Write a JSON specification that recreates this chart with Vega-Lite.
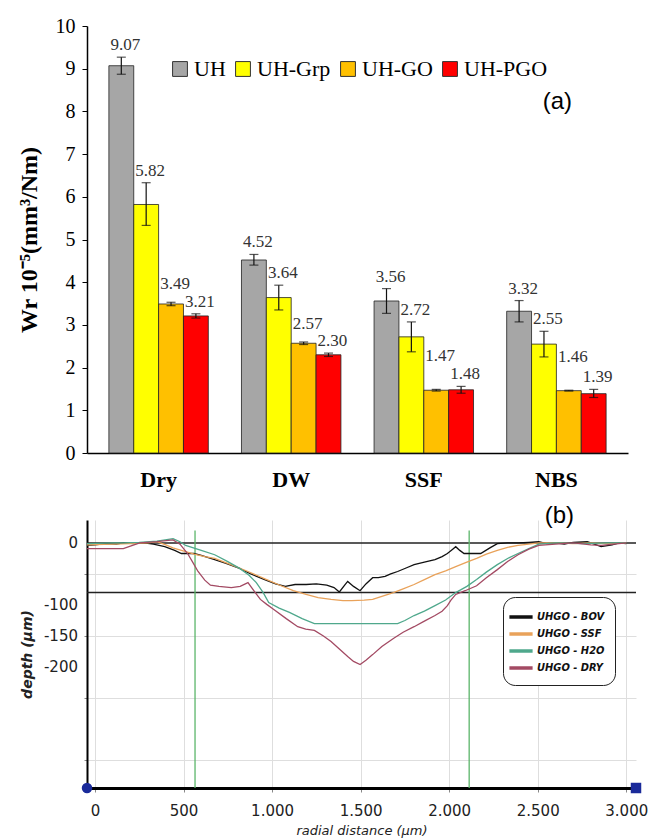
{
  "$schema": "https://vega.github.io/schema/vega-lite/v6.json",
  "background": "white",
  "padding": {"left": 17, "top": 16, "right": 2, "bottom": 2},
  "config": {"view": {"stroke": null}, "concat": {"spacing": 14}, "axis": {"labelOverlap": false}},
  "resolve": {"scale": {"color": "independent"}, "legend": {"color": "independent"}},
  "datasets": {
    "wear": [
      {"medium": "Dry", "sample": "UH", "wr": 9.07, "lo": 8.87, "hi": 9.27},
      {"medium": "Dry", "sample": "UH-Grp", "wr": 5.82, "lo": 5.33, "hi": 6.33},
      {"medium": "Dry", "sample": "UH-GO", "wr": 3.49, "lo": 3.45, "hi": 3.53},
      {"medium": "Dry", "sample": "UH-PGO", "wr": 3.21, "lo": 3.16, "hi": 3.26},
      {"medium": "DW", "sample": "UH", "wr": 4.52, "lo": 4.40, "hi": 4.65},
      {"medium": "DW", "sample": "UH-Grp", "wr": 3.64, "lo": 3.35, "hi": 3.93},
      {"medium": "DW", "sample": "UH-GO", "wr": 2.57, "lo": 2.54, "hi": 2.60},
      {"medium": "DW", "sample": "UH-PGO", "wr": 2.30, "lo": 2.26, "hi": 2.34},
      {"medium": "SSF", "sample": "UH", "wr": 3.56, "lo": 3.27, "hi": 3.85},
      {"medium": "SSF", "sample": "UH-Grp", "wr": 2.72, "lo": 2.37, "hi": 3.07},
      {"medium": "SSF", "sample": "UH-GO", "wr": 1.47, "lo": 1.45, "hi": 1.49},
      {"medium": "SSF", "sample": "UH-PGO", "wr": 1.48, "lo": 1.40, "hi": 1.56},
      {"medium": "NBS", "sample": "UH", "wr": 3.32, "lo": 3.07, "hi": 3.57},
      {"medium": "NBS", "sample": "UH-Grp", "wr": 2.55, "lo": 2.25, "hi": 2.85},
      {"medium": "NBS", "sample": "UH-GO", "wr": 1.46, "lo": 1.45, "hi": 1.47},
      {"medium": "NBS", "sample": "UH-PGO", "wr": 1.39, "lo": 1.30, "hi": 1.49}
    ],
    "profile": [
      {"series": "UHGO - BOV", "r": -45, "depth": -4}, {"series": "UHGO - BOV", "r": 0, "depth": -3}, {"series": "UHGO - BOV", "r": 60, "depth": -1}, {"series": "UHGO - BOV", "r": 120, "depth": -2}, {"series": "UHGO - BOV", "r": 160, "depth": 0}, {"series": "UHGO - BOV", "r": 220, "depth": -1}, {"series": "UHGO - BOV", "r": 277, "depth": 0}, {"series": "UHGO - BOV", "r": 330, "depth": -2}, {"series": "UHGO - BOV", "r": 394, "depth": -6}, {"series": "UHGO - BOV", "r": 450, "depth": -12}, {"series": "UHGO - BOV", "r": 488, "depth": -17}, {"series": "UHGO - BOV", "r": 559, "depth": -17}, {"series": "UHGO - BOV", "r": 600, "depth": -20}, {"series": "UHGO - BOV", "r": 676, "depth": -27}, {"series": "UHGO - BOV", "r": 740, "depth": -33}, {"series": "UHGO - BOV", "r": 817, "depth": -41}, {"series": "UHGO - BOV", "r": 880, "depth": -50}, {"series": "UHGO - BOV", "r": 958, "depth": -59}, {"series": "UHGO - BOV", "r": 1020, "depth": -66}, {"series": "UHGO - BOV", "r": 1075, "depth": -70}, {"series": "UHGO - BOV", "r": 1130, "depth": -67}, {"series": "UHGO - BOV", "r": 1192, "depth": -67}, {"series": "UHGO - BOV", "r": 1250, "depth": -66}, {"series": "UHGO - BOV", "r": 1309, "depth": -68}, {"series": "UHGO - BOV", "r": 1350, "depth": -72}, {"series": "UHGO - BOV", "r": 1380, "depth": -79}, {"series": "UHGO - BOV", "r": 1410, "depth": -68}, {"series": "UHGO - BOV", "r": 1427, "depth": -62}, {"series": "UHGO - BOV", "r": 1460, "depth": -70}, {"series": "UHGO - BOV", "r": 1497, "depth": -77}, {"series": "UHGO - BOV", "r": 1530, "depth": -66}, {"series": "UHGO - BOV", "r": 1568, "depth": -56}, {"series": "UHGO - BOV", "r": 1600, "depth": -56}, {"series": "UHGO - BOV", "r": 1638, "depth": -54}, {"series": "UHGO - BOV", "r": 1670, "depth": -50}, {"series": "UHGO - BOV", "r": 1709, "depth": -46}, {"series": "UHGO - BOV", "r": 1760, "depth": -40}, {"series": "UHGO - BOV", "r": 1802, "depth": -35}, {"series": "UHGO - BOV", "r": 1860, "depth": -31}, {"series": "UHGO - BOV", "r": 1920, "depth": -27}, {"series": "UHGO - BOV", "r": 1960, "depth": -22}, {"series": "UHGO - BOV", "r": 1990, "depth": -17}, {"series": "UHGO - BOV", "r": 2020, "depth": -10}, {"series": "UHGO - BOV", "r": 2037, "depth": -6}, {"series": "UHGO - BOV", "r": 2060, "depth": -12}, {"series": "UHGO - BOV", "r": 2084, "depth": -17}, {"series": "UHGO - BOV", "r": 2130, "depth": -17}, {"series": "UHGO - BOV", "r": 2178, "depth": -17}, {"series": "UHGO - BOV", "r": 2230, "depth": -8}, {"series": "UHGO - BOV", "r": 2272, "depth": -1}, {"series": "UHGO - BOV", "r": 2330, "depth": 0}, {"series": "UHGO - BOV", "r": 2389, "depth": 0}, {"series": "UHGO - BOV", "r": 2450, "depth": 1}, {"series": "UHGO - BOV", "r": 2506, "depth": 2}, {"series": "UHGO - BOV", "r": 2550, "depth": -1}, {"series": "UHGO - BOV", "r": 2600, "depth": 0}, {"series": "UHGO - BOV", "r": 2650, "depth": -2}, {"series": "UHGO - BOV", "r": 2700, "depth": 1}, {"series": "UHGO - BOV", "r": 2780, "depth": 2}, {"series": "UHGO - BOV", "r": 2858, "depth": -6}, {"series": "UHGO - BOV", "r": 2920, "depth": -3}, {"series": "UHGO - BOV", "r": 2960, "depth": 0}, {"series": "UHGO - BOV", "r": 3000, "depth": -1},
      {"series": "UHGO - SSF", "r": -45, "depth": -3}, {"series": "UHGO - SSF", "r": 100, "depth": -2}, {"series": "UHGO - SSF", "r": 200, "depth": -1}, {"series": "UHGO - SSF", "r": 300, "depth": 0}, {"series": "UHGO - SSF", "r": 350, "depth": 2}, {"series": "UHGO - SSF", "r": 400, "depth": -3}, {"series": "UHGO - SSF", "r": 440, "depth": -8}, {"series": "UHGO - SSF", "r": 488, "depth": -12}, {"series": "UHGO - SSF", "r": 560, "depth": -18}, {"series": "UHGO - SSF", "r": 620, "depth": -22}, {"series": "UHGO - SSF", "r": 676, "depth": -25}, {"series": "UHGO - SSF", "r": 760, "depth": -34}, {"series": "UHGO - SSF", "r": 864, "depth": -46}, {"series": "UHGO - SSF", "r": 960, "depth": -58}, {"series": "UHGO - SSF", "r": 1051, "depth": -69}, {"series": "UHGO - SSF", "r": 1120, "depth": -77}, {"series": "UHGO - SSF", "r": 1192, "depth": -83}, {"series": "UHGO - SSF", "r": 1260, "depth": -88}, {"series": "UHGO - SSF", "r": 1333, "depth": -91}, {"series": "UHGO - SSF", "r": 1400, "depth": -93}, {"series": "UHGO - SSF", "r": 1450, "depth": -93}, {"series": "UHGO - SSF", "r": 1520, "depth": -92}, {"series": "UHGO - SSF", "r": 1568, "depth": -91}, {"series": "UHGO - SSF", "r": 1620, "depth": -86}, {"series": "UHGO - SSF", "r": 1685, "depth": -80}, {"series": "UHGO - SSF", "r": 1740, "depth": -74}, {"series": "UHGO - SSF", "r": 1802, "depth": -67}, {"series": "UHGO - SSF", "r": 1860, "depth": -59}, {"series": "UHGO - SSF", "r": 1920, "depth": -51}, {"series": "UHGO - SSF", "r": 1980, "depth": -45}, {"series": "UHGO - SSF", "r": 2037, "depth": -38}, {"series": "UHGO - SSF", "r": 2100, "depth": -31}, {"series": "UHGO - SSF", "r": 2155, "depth": -25}, {"series": "UHGO - SSF", "r": 2210, "depth": -18}, {"series": "UHGO - SSF", "r": 2272, "depth": -12}, {"series": "UHGO - SSF", "r": 2330, "depth": -7}, {"series": "UHGO - SSF", "r": 2389, "depth": -4}, {"series": "UHGO - SSF", "r": 2450, "depth": -2}, {"series": "UHGO - SSF", "r": 2506, "depth": 0}, {"series": "UHGO - SSF", "r": 2600, "depth": 0}, {"series": "UHGO - SSF", "r": 2700, "depth": -1}, {"series": "UHGO - SSF", "r": 2800, "depth": 0}, {"series": "UHGO - SSF", "r": 2900, "depth": -1}, {"series": "UHGO - SSF", "r": 3000, "depth": 0},
      {"series": "UHGO - H2O", "r": -45, "depth": -1}, {"series": "UHGO - H2O", "r": 100, "depth": 0}, {"series": "UHGO - H2O", "r": 160, "depth": 0}, {"series": "UHGO - H2O", "r": 250, "depth": 1}, {"series": "UHGO - H2O", "r": 350, "depth": 3}, {"series": "UHGO - H2O", "r": 441, "depth": 7}, {"series": "UHGO - H2O", "r": 480, "depth": 2}, {"series": "UHGO - H2O", "r": 512, "depth": -4}, {"series": "UHGO - H2O", "r": 600, "depth": -12}, {"series": "UHGO - H2O", "r": 676, "depth": -19}, {"series": "UHGO - H2O", "r": 750, "depth": -30}, {"series": "UHGO - H2O", "r": 817, "depth": -41}, {"series": "UHGO - H2O", "r": 870, "depth": -52}, {"series": "UHGO - H2O", "r": 911, "depth": -64}, {"series": "UHGO - H2O", "r": 950, "depth": -80}, {"series": "UHGO - H2O", "r": 981, "depth": -96}, {"series": "UHGO - H2O", "r": 1040, "depth": -105}, {"series": "UHGO - H2O", "r": 1098, "depth": -112}, {"series": "UHGO - H2O", "r": 1170, "depth": -122}, {"series": "UHGO - H2O", "r": 1239, "depth": -130}, {"series": "UHGO - H2O", "r": 1400, "depth": -130}, {"series": "UHGO - H2O", "r": 1550, "depth": -130}, {"series": "UHGO - H2O", "r": 1709, "depth": -130}, {"series": "UHGO - H2O", "r": 1750, "depth": -125}, {"series": "UHGO - H2O", "r": 1802, "depth": -117}, {"series": "UHGO - H2O", "r": 1860, "depth": -110}, {"series": "UHGO - H2O", "r": 1920, "depth": -101}, {"series": "UHGO - H2O", "r": 1980, "depth": -92}, {"series": "UHGO - H2O", "r": 2037, "depth": -80}, {"series": "UHGO - H2O", "r": 2100, "depth": -70}, {"series": "UHGO - H2O", "r": 2155, "depth": -59}, {"series": "UHGO - H2O", "r": 2210, "depth": -47}, {"series": "UHGO - H2O", "r": 2272, "depth": -35}, {"series": "UHGO - H2O", "r": 2330, "depth": -25}, {"series": "UHGO - H2O", "r": 2389, "depth": -17}, {"series": "UHGO - H2O", "r": 2450, "depth": -9}, {"series": "UHGO - H2O", "r": 2506, "depth": -2}, {"series": "UHGO - H2O", "r": 2600, "depth": 0}, {"series": "UHGO - H2O", "r": 2750, "depth": -1}, {"series": "UHGO - H2O", "r": 2900, "depth": 0}, {"series": "UHGO - H2O", "r": 3000, "depth": 0},
      {"series": "UHGO - DRY", "r": -45, "depth": -9}, {"series": "UHGO - DRY", "r": 100, "depth": -9}, {"series": "UHGO - DRY", "r": 160, "depth": -9}, {"series": "UHGO - DRY", "r": 200, "depth": -5}, {"series": "UHGO - DRY", "r": 253, "depth": 0}, {"series": "UHGO - DRY", "r": 350, "depth": 2}, {"series": "UHGO - DRY", "r": 441, "depth": 5}, {"series": "UHGO - DRY", "r": 480, "depth": -2}, {"series": "UHGO - DRY", "r": 523, "depth": -17}, {"series": "UHGO - DRY", "r": 550, "depth": -30}, {"series": "UHGO - DRY", "r": 582, "depth": -46}, {"series": "UHGO - DRY", "r": 620, "depth": -60}, {"series": "UHGO - DRY", "r": 652, "depth": -68}, {"series": "UHGO - DRY", "r": 700, "depth": -70}, {"series": "UHGO - DRY", "r": 770, "depth": -72}, {"series": "UHGO - DRY", "r": 820, "depth": -70}, {"series": "UHGO - DRY", "r": 864, "depth": -64}, {"series": "UHGO - DRY", "r": 900, "depth": -78}, {"series": "UHGO - DRY", "r": 934, "depth": -91}, {"series": "UHGO - DRY", "r": 970, "depth": -99}, {"series": "UHGO - DRY", "r": 1004, "depth": -106}, {"series": "UHGO - DRY", "r": 1080, "depth": -122}, {"series": "UHGO - DRY", "r": 1145, "depth": -135}, {"series": "UHGO - DRY", "r": 1190, "depth": -139}, {"series": "UHGO - DRY", "r": 1239, "depth": -141}, {"series": "UHGO - DRY", "r": 1290, "depth": -150}, {"series": "UHGO - DRY", "r": 1333, "depth": -159}, {"series": "UHGO - DRY", "r": 1380, "depth": -171}, {"series": "UHGO - DRY", "r": 1427, "depth": -183}, {"series": "UHGO - DRY", "r": 1460, "depth": -191}, {"series": "UHGO - DRY", "r": 1497, "depth": -196}, {"series": "UHGO - DRY", "r": 1530, "depth": -189}, {"series": "UHGO - DRY", "r": 1568, "depth": -180}, {"series": "UHGO - DRY", "r": 1620, "depth": -167}, {"series": "UHGO - DRY", "r": 1685, "depth": -154}, {"series": "UHGO - DRY", "r": 1740, "depth": -144}, {"series": "UHGO - DRY", "r": 1802, "depth": -135}, {"series": "UHGO - DRY", "r": 1860, "depth": -126}, {"series": "UHGO - DRY", "r": 1920, "depth": -117}, {"series": "UHGO - DRY", "r": 1960, "depth": -110}, {"series": "UHGO - DRY", "r": 1990, "depth": -101}, {"series": "UHGO - DRY", "r": 2010, "depth": -92}, {"series": "UHGO - DRY", "r": 2037, "depth": -83}, {"series": "UHGO - DRY", "r": 2090, "depth": -77}, {"series": "UHGO - DRY", "r": 2155, "depth": -69}, {"series": "UHGO - DRY", "r": 2210, "depth": -56}, {"series": "UHGO - DRY", "r": 2272, "depth": -43}, {"series": "UHGO - DRY", "r": 2330, "depth": -30}, {"series": "UHGO - DRY", "r": 2389, "depth": -19}, {"series": "UHGO - DRY", "r": 2450, "depth": -10}, {"series": "UHGO - DRY", "r": 2506, "depth": -4}, {"series": "UHGO - DRY", "r": 2600, "depth": -2}, {"series": "UHGO - DRY", "r": 2700, "depth": 0}, {"series": "UHGO - DRY", "r": 2741, "depth": -1}, {"series": "UHGO - DRY", "r": 2800, "depth": -3}, {"series": "UHGO - DRY", "r": 2858, "depth": -4}, {"series": "UHGO - DRY", "r": 2930, "depth": -2}, {"series": "UHGO - DRY", "r": 3000, "depth": 0}
    ],
    "hrefs": [{"depth": 0}, {"depth": -80}],
    "vrefs": [{"r": 565}, {"r": 2113}],
    "ylabels": [{"depth": 0, "label": "0"}, {"depth": -100, "label": "-100"}, {"depth": -150, "label": "-150"}, {"depth": -200, "label": "-200"}],
    "ends": [{"r": -45, "depth": -395, "kind": "start"}, {"r": 3055, "depth": -395, "kind": "end"}]
  },
  "vconcat": [
    {
      "width": 541,
      "height": 427,
      "title": {"text": "(a)", "anchor": "end", "frame": "group", "offset": -98, "dx": -56, "font": "Liberation Sans", "fontSize": 24, "fontWeight": "normal", "color": "black"},
      "data": {"name": "wear"},
      "encoding": {
        "x": {"field": "medium", "type": "nominal", "sort": ["Dry", "DW", "SSF", "NBS"], "scale": {"paddingInner": 0.25, "paddingOuter": 0.165},
          "axis": {"title": null, "labelAngle": 0, "labelFont": "Liberation Serif", "labelFontWeight": "bold", "labelFontSize": 22, "labelColor": "black", "labelPadding": 16, "ticks": false, "domainColor": "black", "domainWidth": 1.5}},
        "xOffset": {"field": "sample", "type": "nominal", "sort": ["UH", "UH-Grp", "UH-GO", "UH-PGO"], "scale": {"paddingInner": 0, "paddingOuter": 0}}
      },
      "layer": [
        {
          "mark": {"type": "bar", "stroke": "#222", "strokeWidth": 0.8},
          "encoding": {
            "y": {"field": "wr", "type": "quantitative", "title": "Wr 10⁻⁵(mm³/Nm)", "scale": {"domain": [0, 10], "nice": false},
              "axis": {"title": "Wr 10⁻⁵(mm³/Nm)", "titleFont": "Liberation Serif", "titleFontSize": 24, "titleFontWeight": "bold", "titleColor": "black", "titlePadding": 14,
                "values": [0, 1, 2, 3, 4, 5, 6, 7, 8, 9, 10], "grid": false, "labelFont": "Liberation Serif", "labelFontSize": 20, "labelColor": "black", "labelPadding": 7,
                "tickColor": "black", "tickSize": 5, "domainColor": "black", "domainWidth": 1.5}},
            "color": {"field": "sample", "type": "nominal", "sort": ["UH", "UH-Grp", "UH-GO", "UH-PGO"],
              "scale": {"domain": ["UH", "UH-Grp", "UH-GO", "UH-PGO"], "range": ["#A6A6A6", "#FFFF00", "#FFC000", "#FF0000"]},
              "legend": {"title": null, "orient": "none", "legendX": 82, "legendY": 32, "direction": "horizontal", "symbolType": "square", "symbolSize": 220,
                "symbolStrokeColor": "#333", "symbolStrokeWidth": 1, "labelFont": "Liberation Serif", "labelFontSize": 22, "labelColor": "black", "labelOffset": 3, "columnPadding": 6}}
          }
        },
        {
          "mark": {"type": "errorbar", "ticks": {"size": 9, "color": "#111"}, "color": "#111", "thickness": 1.2},
          "encoding": {
            "y": {"field": "lo", "type": "quantitative", "title": "Wr 10⁻⁵(mm³/Nm)"},
            "y2": {"field": "hi"}
          }
        },
        {
          "transform": [{"filter": "datum.sample != 'UH-GO'"}],
          "mark": {"type": "text", "baseline": "middle", "dy": -12, "dx": 4, "font": "Liberation Serif", "fontSize": 17, "color": "#333"},
          "encoding": {
            "y": {"field": "hi", "type": "quantitative", "title": "Wr 10⁻⁵(mm³/Nm)"},
            "text": {"field": "wr", "type": "quantitative", "format": ".2f"}
          }
        },
        {
          "transform": [{"filter": "datum.sample == 'UH-GO' && datum.hi >= 2"}],
          "mark": {"type": "text", "baseline": "middle", "dy": -18, "dx": 4, "font": "Liberation Serif", "fontSize": 17, "color": "#333"},
          "encoding": {
            "y": {"field": "hi", "type": "quantitative", "title": "Wr 10⁻⁵(mm³/Nm)"},
            "text": {"field": "wr", "type": "quantitative", "format": ".2f"}
          }
        },
        {
          "transform": [{"filter": "datum.sample == 'UH-GO' && datum.hi < 2"}],
          "mark": {"type": "text", "baseline": "middle", "dy": -33, "dx": 4, "font": "Liberation Serif", "fontSize": 17, "color": "#333"},
          "encoding": {
            "y": {"field": "hi", "type": "quantitative", "title": "Wr 10⁻⁵(mm³/Nm)"},
            "text": {"field": "wr", "type": "quantitative", "format": ".2f"}
          }
        }
      ]
    },
    {
      "width": 549,
      "height": 268,
      "title": {"text": "(b)", "anchor": "end", "frame": "group", "offset": -8, "dx": -62, "font": "Liberation Sans", "fontSize": 24, "fontWeight": "normal", "color": "black"},
      "layer": [
        {
          "data": {"name": "hrefs"},
          "mark": {"type": "rule", "color": "#222", "strokeWidth": 1.5},
          "encoding": {
            "y": {"field": "depth", "type": "quantitative", "title": "depth (μm)", "scale": {"domain": [-395, 37], "nice": false, "zero": false},
              "axis": {"title": "depth (μm)", "titleFont": "DejaVu Sans", "titleFontStyle": "italic", "titleFontWeight": "bold", "titleFontSize": 14, "titleColor": "#222", "titlePadding": 49,
                "values": [-350, -300, -250, -200, -150, -100, -50, 0], "labels": false, "tickSize": 3, "tickColor": "#888",
                "grid": true, "gridColor": "#dedede", "domainColor": "black", "domainWidth": 2}}
          }
        },
        {
          "data": {"name": "ylabels"},
          "mark": {"type": "text", "align": "right", "baseline": "middle", "dx": -9, "font": "DejaVu Sans", "fontSize": 15, "color": "#222", "clip": false},
          "encoding": {
            "x": {"datum": -45},
            "y": {"field": "depth", "type": "quantitative", "title": "depth (μm)"},
            "text": {"field": "label", "type": "nominal"}
          }
        },
        {
          "data": {"name": "vrefs"},
          "mark": {"type": "rule", "color": "#5bb56a", "strokeWidth": 1.3},
          "encoding": {
            "x": {"field": "r", "type": "quantitative", "title": "radial distance (μm)", "scale": {"domain": [-45, 3055], "nice": false, "zero": false},
              "axis": {"title": "radial distance (μm)", "titleFont": "DejaVu Sans", "titleFontStyle": "italic", "titleFontWeight": "normal", "titleFontSize": 13, "titleColor": "#222", "titlePadding": 6,
                "values": [0, 500, 1000, 1500, 2000, 2500, 3000], "labelOverlap": false, "labelExpr": "replace(format(datum.value, ','), ',', '.')",
                "labelFont": "DejaVu Sans", "labelFontSize": 15, "labelColor": "#222", "labelPadding": 11, "tickSize": 4, "tickColor": "#888",
                "grid": true, "gridColor": "#dedede", "domainColor": "black", "domainWidth": 3}},
            "y": {"datum": 20},
            "y2": {"datum": -395}
          }
        },
        {
          "data": {"name": "profile"},
          "mark": {"type": "line", "strokeWidth": 1.3},
          "encoding": {
            "x": {"field": "r", "type": "quantitative", "title": "radial distance (μm)"},
            "y": {"field": "depth", "type": "quantitative", "title": "depth (μm)"},
            "color": {"field": "series", "type": "nominal",
              "scale": {"domain": ["UHGO - BOV", "UHGO - SSF", "UHGO - H2O", "UHGO - DRY"], "range": ["#111111", "#E9A25A", "#4FA88C", "#A34A63"]},
              "legend": {"title": null, "orient": "none", "legendX": 416, "legendY": 77, "symbolType": "M-1.7,0H1.2", "symbolSize": 256, "symbolStrokeWidth": 3.5,
                "labelFont": "DejaVu Sans Condensed", "labelFontStyle": "italic", "labelFontWeight": "bold", "labelFontSize": 11, "labelColor": "#111", "labelOffset": 4,
                "rowPadding": 0, "padding": 10, "strokeColor": "#222", "fillColor": "white", "cornerRadius": 12}},
            "order": {"field": "r", "type": "quantitative"}
          }
        },
        {
          "data": {"name": "ends"},
          "mark": {"type": "point", "filled": true, "color": "#1a2a9a", "size": 110, "opacity": 1, "clip": false},
          "encoding": {
            "x": {"field": "r", "type": "quantitative", "title": "radial distance (μm)"},
            "y": {"field": "depth", "type": "quantitative", "title": "depth (μm)"},
            "shape": {"field": "kind", "type": "nominal", "scale": {"domain": ["start", "end"], "range": ["circle", "square"]}, "legend": null}
          }
        }
      ]
    }
  ]
}
